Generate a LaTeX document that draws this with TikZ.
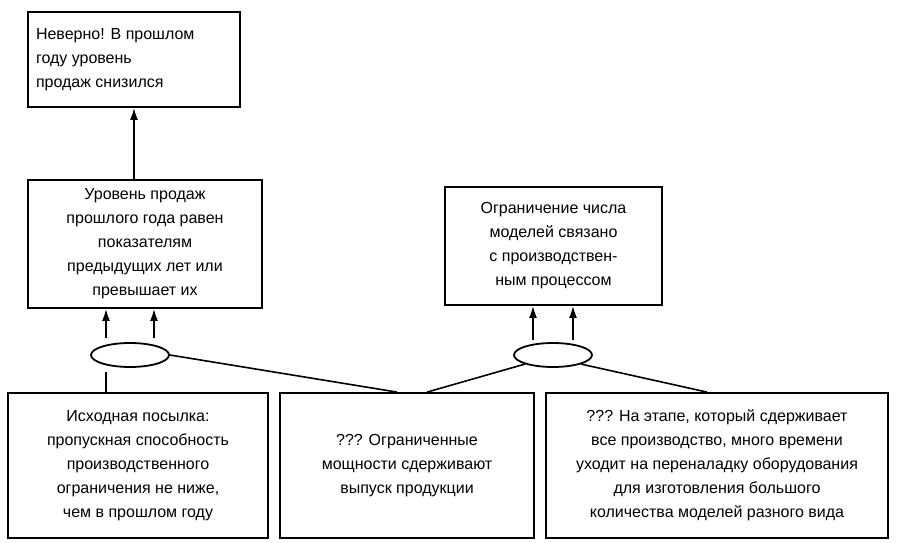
\documentclass[tikz,border=0pt]{standalone}
\usepackage{fontspec}
\setmainfont{Liberation Sans}
\usetikzlibrary{arrows.meta,shapes.geometric}
\begin{document}
\begin{tikzpicture}[x=1pt,y=-1pt,
  box/.style={draw,line width=1.8pt,inner sep=0pt,font=\fontsize{16}{24}\selectfont},
  ell/.style={draw,line width=1.8pt,ellipse,minimum width=78pt,minimum height=24pt,inner sep=0pt},
  arr/.style={line width=1.8pt,-{Latex[length=12pt,width=8pt]}},
  ln/.style={line width=1.6pt}]
\useasboundingbox (0,0) rectangle (897,543);
\node[box,minimum width=212pt,minimum height=95pt] (b1) at (134,59.5) {\parbox{196pt}{\raggedright Неверно! В прошлом\\ году уровень\\ продаж снизился}};
\node[box,minimum width=234pt,minimum height=128pt] (b2) at (145,244) {\parbox{226pt}{\centering Уровень продаж\\ прошлого года равен\\ показателям\\ предыдущих лет или\\ превышает их}};
\node[box,minimum width=217pt,minimum height=118pt] (b3) at (553.5,246) {\parbox{210pt}{\centering Ограничение числа\\ моделей связано\\ с производствен-\\ ным процессом}};
\node[box,minimum width=260pt,minimum height=145pt] (b4) at (138,465.5) {\parbox{254pt}{\centering Исходная посылка:\\ пропускная способность\\ производственного\\ ограничения не ниже,\\ чем в прошлом году}};
\node[box,minimum width=254pt,minimum height=145pt] (b5) at (407,465.5) {\parbox{248pt}{\centering ??? Ограниченные\\ мощности сдерживают\\ выпуск продукции}};
\node[box,minimum width=342pt,minimum height=145pt] (b6) at (717,465.5) {\parbox{338pt}{\centering ??? На этапе, который сдерживает\\ все производство, много времени\\ уходит на переналадку оборудования\\ для изготовления большого\\ количества моделей разного вида}};
\node[ell] (e1) at (130,355) {};
\node[ell] (e2) at (553,355) {};
% left group
\coordinate (p1) at ([xshift=-24pt,yshift=4pt]e1.north);
\coordinate (p2) at ([xshift=24pt,yshift=4pt]e1.north);
\draw[arr] (p1) -- (p1 |- b2.south);
\draw[arr] (p2) -- (p2 |- b2.south);
\draw[ln] (b4.north -| p1) -- ([yshift=-4pt]p1 |- e1.south);
\draw[ln] (e1.east) -- ([xshift=-10pt]b5.north);
% right group
\coordinate (p3) at ([xshift=-20pt,yshift=2pt]e2.north);
\coordinate (p4) at ([xshift=20pt,yshift=2pt]e2.north);
\draw[arr] (p3) -- (p3 |- b3.south);
\draw[arr] (p4) -- (p4 |- b3.south);
\draw[ln] ([xshift=20pt]b5.north) -- (e2.south west);
\draw[ln] ([xshift=-10pt]b6.north) -- (e2.south east);
% top
\draw[arr] (b2.north -| b1.south) -- (b1.south);
\end{tikzpicture}
\end{document}
